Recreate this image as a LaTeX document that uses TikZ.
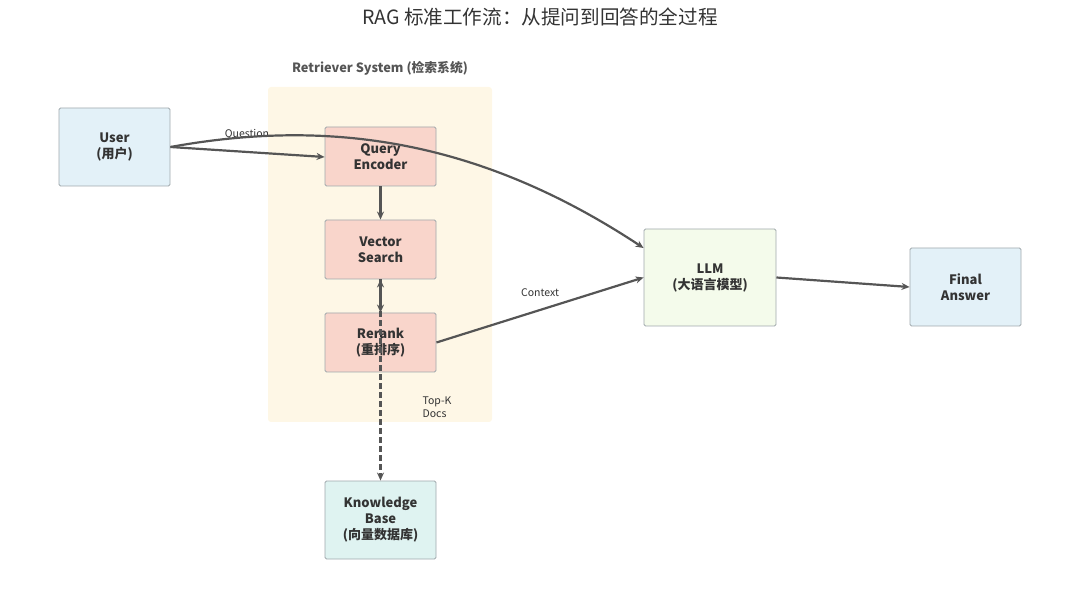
\documentclass[tikz,border=0pt]{standalone}
\usepackage{fontspec}
\setmainfont{Noto Sans CJK SC}
\usetikzlibrary{arrows.meta}
\definecolor{txt}{HTML}{333333}
\definecolor{edge}{HTML}{555555}
\definecolor{bord}{HTML}{A0A8AC}
\definecolor{cluster}{HTML}{FEF7E6}
\definecolor{bluef}{HTML}{E3F1F8}
\definecolor{salmon}{HTML}{F9D5CB}
\definecolor{teal}{HTML}{DFF3F1}
\definecolor{greenf}{HTML}{F4FBEB}
\tikzset{
  box/.style={draw=bord, line width=0.9pt, rounded corners=1.5pt, align=center, text=txt,
    font=\fontsize{13}{16}\selectfont\bfseries, inner sep=0pt},
  conn/.style={draw=edge, line width=2.2pt, -{Stealth[length=8pt,width=7pt]}},
  lbl/.style={text=txt, font=\fontsize{10.5}{12.5}\selectfont, inner sep=0pt, align=left},
}
\begin{document}
\begin{tikzpicture}[x=1pt,y=-1pt]
\useasboundingbox (0,0) rectangle (1080,612);
\node[text=txt, font=\fontsize{19.6}{22}\selectfont] (title) at (540,17) {RAG 标准工作流：从提问到回答的全过程};
\node[fill=cluster, rounded corners=3pt, minimum width=224pt, minimum height=335pt, inner sep=0pt] (cl) at (380,254.5) {};
\node[text=edge, font=\fontsize{12.8}{15}\selectfont\bfseries] (cllbl) at (380,68) {Retriever System (检索系统)};
\node[box, fill=bluef, minimum width=111pt, minimum height=78pt] (user) at (114.5,147) {User\\(用户)};
\node[box, fill=salmon, minimum width=111pt, minimum height=59pt] (qe) at (380.5,156.5) {Query\\Encoder};
\node[box, fill=salmon, minimum width=111pt, minimum height=59pt] (vs) at (380.5,249.5) {Vector\\Search};
\node[box, fill=salmon, minimum width=111pt, minimum height=59pt] (rr) at (380.5,342.5) {Rerank\\(重排序)};
\node[box, fill=teal, minimum width=111pt, minimum height=78pt] (kb) at (380.5,520) {Knowledge\\Base\\(向量数据库)};
\node[box, fill=greenf, minimum width=132pt, minimum height=97pt] (llm) at (710,277.5) {LLM\\(大语言模型)};
\node[box, fill=bluef, minimum width=111pt, minimum height=78pt] (fa) at (965.5,287) {Final\\Answer};
% edges
\draw[conn] (user.east) -- (qe.west |- 0,157);
\node[lbl] (q) at (247,134) {Question};
\draw[conn] (user.east) .. controls (330,118) and (480,140) .. (llm.north west |- 0,248);
\draw[conn] (qe) -- (vs);
\draw[conn] (vs) -- (rr);
\draw[draw=edge, line width=2.2pt, dash pattern=on 6pt off 3pt, {Stealth[length=8pt,width=7pt]}-{Stealth[length=8pt,width=7pt]}] (vs.south) -- (kb.north);
\node[lbl] (topk) at (437,407) {Top-K\\Docs};
\draw[conn] (rr.east) -- (llm.west);
\node[lbl] (ctx) at (540,293) {Context};
\draw[conn] (llm.east) -- (fa.west);
\end{tikzpicture}
\end{document}
